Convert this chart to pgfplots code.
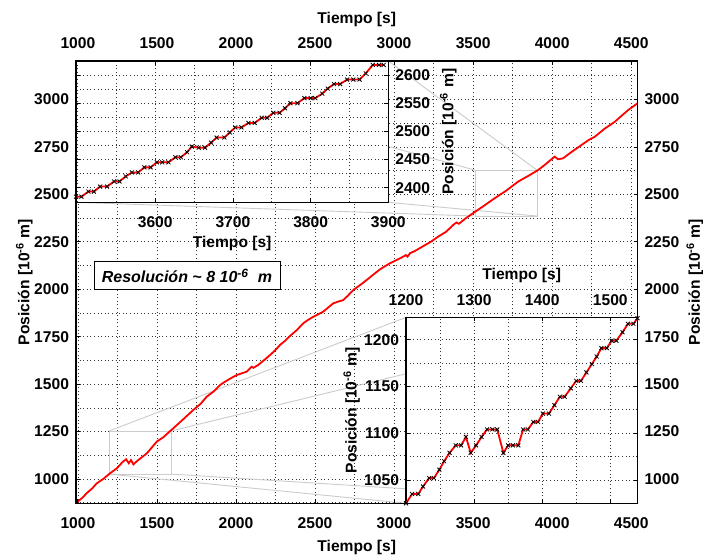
\documentclass[border=0pt]{standalone}
\usepackage{pgfplots}
\pgfplotsset{compat=1.18}
\usepackage{fontspec}
\setmainfont{Liberation Sans}

\newcommand{\lblfont}{\fontsize{7.8}{9}\selectfont\bfseries}

\pgfplotsset{
  matgrid/.style={
    scale only axis,
    anchor=south west,
    grid=both,
    major grid style={draw=black!80, line width=0.35pt, dash pattern=on 0.45pt off 1.35pt},
    minor grid style={draw=black!80, line width=0.35pt, dash pattern=on 0.45pt off 1.35pt},
    axis line style={line width=0.6pt},
    tick style={black, line width=0.4pt},
    major tick length=2pt, minor tick length=0pt,
    tick align=inside,
    ticklabel style={font=\lblfont},
    label style={font=\lblfont},
    /pgf/number format/assume math mode=true,
    /pgf/number format/1000 sep={},
    axis background/.style={fill=white},
  },
  zoomed/.style={red, line width=0.9pt, mark=x,
    mark options={black, line width=0.4pt, mark size=1.4pt}},
  connector/.style={black!20, line width=0.45pt, forget plot},
}

\begin{document}
\begin{tikzpicture}
\useasboundingbox (0,0) rectangle (353.5pt,278pt);

% main axis
\begin{axis}[matgrid,
  at={(38pt,26.35pt)}, width=280.75pt, height=221.15pt,
  xmin=988, xmax=4540, ymin=872, ymax=3203,
  xtick={1000,1500,...,4500}, minor xtick={1250,1750,...,4250},
  ytick={1000,1250,...,3000}, minor ytick={875,1125,...,3125},
  xticklabel style={yshift=-3.5pt},
  xlabel={Tiempo [s]},
  ylabel={Posición [10\textsuperscript{-6} m]},
  xlabel style={at={(axis description cs:0.5,-0.0988)}, anchor=center},
  ylabel style={at={(axis description cs:-0.092,0.5)}, anchor=center},
]
% zoom boxes and their connectors
\addplot[connector] coordinates {(1197,1026) (1589,1026) (1589,1253) (1197,1253) (1197,1026)};
\addplot[connector] coordinates {(1197,1253) (3076,1852)};
\addplot[connector] coordinates {(1589,1253) (4540,1852)};
\addplot[connector] coordinates {(1197,1026) (3076,872)};
\addplot[connector] coordinates {(1589,1026) (4540,872)};
\addplot[connector] coordinates {(3512,2386) (3904,2386) (3904,2628) (3512,2628) (3512,2386)};
\addplot[connector] coordinates {(3512,2628) (988,3203)};
\addplot[connector] coordinates {(3904,2628) (2964,3203)};
\addplot[connector] coordinates {(3512,2386) (988,2458)};
\addplot[connector] coordinates {(3904,2386) (2964,2458)};

\addplot[red, line width=0.9pt] coordinates {
(990,875) (1030,902) (1055,925) (1090,950) (1119,977) (1160,1000) (1203,1030)
(1246,1056) (1284,1091) (1305,1104) (1322,1083) (1336,1100) (1351,1077)
(1376,1096) (1436,1135) (1499,1197) (1540,1220) (1603,1267) (1660,1310)
(1730,1364) (1775,1395) (1815,1434) (1860,1462) (1899,1495) (1931,1513)
(1965,1530) (2005,1548) (2040,1558) (2068,1566) (2085,1580) (2099,1592)
(2110,1586) (2141,1601) (2180,1628) (2215,1653) (2250,1680) (2278,1706)
(2310,1728) (2342,1754) (2385,1785) (2426,1821) (2455,1838) (2489,1855)
(2520,1868) (2552,1882) (2585,1905) (2616,1926) (2650,1936) (2679,1943)
(2710,1968) (2742,1996) (2785,2022) (2827,2049) (2870,2078) (2911,2105)
(2940,2120) (2974,2137) (3038,2163) (3075,2180) (3085,2172) (3101,2190)
(3128,2200) (3180,2225) (3234,2251) (3280,2278) (3329,2303) (3380,2343)
(3395,2352) (3410,2345) (3450,2372) (3498,2400) (3560,2435) (3635,2479)
(3710,2520) (3784,2567) (3850,2598) (3911,2628) (3960,2660) (4016,2699)
(4037,2685) (4069,2690) (4120,2722) (4185,2760) (4230,2786) (4270,2804)
(4330,2845) (4397,2883) (4440,2915) (4482,2945) (4540,2980)};

\node[draw, fill=white, line width=0.5pt, minimum width=93pt, minimum height=14pt,
  font=\fontsize{8}{9}\selectfont\bfseries\itshape]
  at (axis description cs:0.1977,0.514)
  {Resolución \textasciitilde{} 8 10\textsuperscript{-6}\ \ m};
\end{axis}

% top and right labels of the main axis
\begin{axis}[matgrid, grid=none,
  axis background/.style={},
  at={(38pt,26.35pt)}, width=280.75pt, height=221.15pt,
  xmin=988, xmax=4540, ymin=872, ymax=3203,
  xtick={1000,1500,...,4500}, ytick={1000,1250,...,3000},
  xticklabel pos=upper, yticklabel pos=upper,
  xticklabel style={yshift=2.5pt},
  xlabel={Tiempo [s]},
  ylabel={Posición [10\textsuperscript{-6} m]},
  xlabel style={at={(axis description cs:0.5,1.095)}, anchor=center},
  ylabel style={at={(axis description cs:1.102,0.5)}, anchor=center},
]
\addplot[draw=none] coordinates {(988,872)};
\end{axis}

% upper inset
\begin{axis}[matgrid,
  at={(38pt,176.85pt)}, width=156.15pt, height=70.65pt,
  xmin=3498, xmax=3900, ymin=2374, ymax=2625,
  xtick={3600,3700,3800,3900}, minor xtick={3500,3550,3650,3750,3850},
  ytick={2400,2450,...,2600}, minor ytick={2425,2475,...,2575},
  yticklabel pos=upper,
  xticklabel style={yshift=-3.5pt},
  xlabel={Tiempo [s]},
  ylabel={Posición [10\textsuperscript{-6} m]},
  xlabel style={at={(axis description cs:0.5,-0.29)}, anchor=center},
  ylabel style={at={(axis description cs:1.192,0.5)}, anchor=center},
]
\addplot[zoomed] coordinates {
(3498,2384) (3505,2384) (3514,2393) (3521,2393) (3529,2402) (3538,2402)
(3547,2411) (3554,2411) (3562,2420) (3570,2427) (3578,2427) (3586,2436)
(3594,2436) (3602,2445) (3609,2445) (3617,2445) (3626,2454) (3633,2454)
(3641,2463) (3647,2473) (3656,2471) (3664,2471) (3672,2480) (3679,2489)
(3689,2489) (3696,2498) (3703,2507) (3711,2507) (3720,2515) (3728,2515)
(3737,2524) (3744,2524) (3752,2533) (3760,2533) (3767,2541) (3774,2550)
(3783,2550) (3792,2559) (3800,2559) (3806,2559) (3815,2567) (3822,2576)
(3830,2584) (3838,2584) (3847,2592) (3855,2592) (3863,2592) (3871,2603)
(3880,2618) (3888,2618) (3894,2618)};
\end{axis}

% lower inset
\begin{axis}[matgrid,
  at={(203pt,26.35pt)}, width=115.75pt, height=93pt,
  xmin=1200, xmax=1540, ymin=1025, ymax=1224,
  xtick={1200,1300,1400,1500}, minor xtick={1250,1350,1450},
  ytick={1050,1100,1150,1200}, minor ytick={1075,1125,1175},
  xticklabel pos=upper,
  xticklabel style={yshift=2.5pt},
  xlabel={Tiempo [s]},
  ylabel={Posición [10\textsuperscript{-6} m]},
  xlabel style={at={(axis description cs:0.5,1.227)}, anchor=center},
  ylabel style={at={(axis description cs:-0.2345,0.5)}, anchor=center},
]
\addplot[zoomed] coordinates {
(1200,1025) (1209,1035) (1218,1035) (1225,1043) (1234,1052) (1241,1052)
(1249,1061) (1256,1070) (1264,1079) (1273,1087) (1281,1087) (1288,1096)
(1295,1079) (1303,1087) (1311,1096) (1319,1104) (1327,1104) (1334,1104)
(1343,1079) (1350,1087) (1357,1087) (1365,1087) (1372,1104) (1379,1104)
(1387,1112) (1394,1112) (1401,1121) (1410,1121) (1418,1130) (1426,1139)
(1433,1139) (1442,1148) (1450,1156) (1457,1156) (1465,1165) (1473,1174)
(1480,1182) (1487,1191) (1495,1191) (1502,1199) (1509,1199) (1518,1208)
(1526,1217) (1534,1217) (1540,1223)};
\end{axis}
\end{tikzpicture}
\end{document}
